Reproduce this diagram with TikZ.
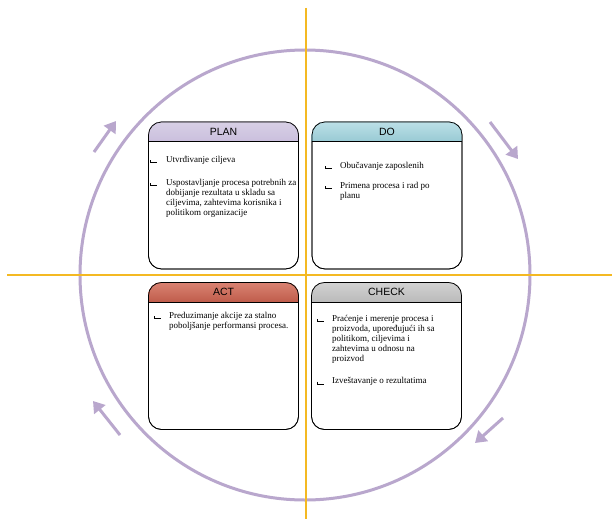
\documentclass[tikz,border=0pt]{standalone}
\usepackage{fontspec}
\setmainfont{Liberation Serif}
\newfontfamily\hdfont{Liberation Sans}
\usetikzlibrary{arrows.meta}
\definecolor{ringc}{HTML}{B9A7CD}
\definecolor{axisc}{HTML}{F4B923}
\definecolor{planA}{HTML}{D8D0E6}
\definecolor{planB}{HTML}{CABFDD}
\definecolor{doA}{HTML}{BCE0E7}
\definecolor{doB}{HTML}{98CAD4}
\definecolor{actA}{HTML}{DA8373}
\definecolor{actB}{HTML}{BF5C4B}
\definecolor{chkA}{HTML}{D2D2D2}
\definecolor{chkB}{HTML}{BABABA}
\tikzset{
  panel/.style={draw=black, line width=0.7pt, rounded corners=13pt, minimum width=150pt, minimum height=147pt, inner sep=0pt},
  ttl/.style={font=\hdfont\fontsize{10.5}{12}\selectfont, inner sep=0pt},
  body/.style={font=\fontsize{9}{9.9}\selectfont, anchor=north west, align=left, inner sep=0pt},
  ring/.style={draw=ringc, line width=3pt},
  axis/.style={draw=axisc, line width=2pt},
  cyc/.style={draw=ringc, fill=ringc, line width=3pt, -{Triangle[length=11pt,width=14pt]}},
}
\newcommand{\bulletmark}[1]{%
  \draw[line width=0.6pt] ([yshift=2.4pt]#1) -- ([yshift=-0.6pt]#1);
  \draw[line width=1.3pt] ([xshift=0pt,yshift=-0.3pt]#1) -- ([xshift=6.5pt,yshift=-0.3pt]#1);}
\newcommand{\hdfill}[3]{%
  \begin{scope}
    \clip[rounded corners=13pt] (#1.south west) rectangle (#1.north east);
    \shade[top color=#2, bottom color=#3] (#1.north west) rectangle ([yshift=-20pt]#1.north east);
  \end{scope}
  \draw[line width=0.6pt] ([yshift=-20pt]#1.north west) -- ([yshift=-20pt]#1.north east);
}
\begin{document}
\begin{tikzpicture}[x=1pt,y=-1pt]
\useasboundingbox (0,0) rectangle (612,519);
\fill[white] (0,0) rectangle (612,519);
% ring and axes
\draw[ring] (305,275) circle (225);
\coordinate (vt) at (306,8);
\coordinate (vb) at (306,519);
\coordinate (hl) at (7,275);
\coordinate (hr) at (612,275);
\draw[axis] (vt) -- (vb);
\draw[axis] (hl) -- (hr);
% cycle arrows
\coordinate (a1s) at (94,152); \coordinate (a1e) at (116,121);
\coordinate (a2s) at (490,122); \coordinate (a2e) at (518,159);
\coordinate (a3s) at (503,418); \coordinate (a3e) at (475,443);
\coordinate (a4s) at (120,435); \coordinate (a4e) at (93,401);
\draw[cyc] (a1s) -- (a1e);
\draw[cyc] (a2s) -- (a2e);
\draw[cyc] (a3s) -- (a3e);
\draw[cyc] (a4s) -- (a4e);
% panels
\node[panel, fill=white] (plan) at (223.5,195.5) {};
\node[panel, fill=white] (do) at (387,195.5) {};
\node[panel, fill=white] (act) at (223.5,356) {};
\node[panel, fill=white] (check) at (386.5,356) {};
\hdfill{plan}{planA}{planB}
\hdfill{do}{doA}{doB}
\hdfill{act}{actA}{actB}
\hdfill{check}{chkA}{chkB}
\node[panel] at (plan) {};
\node[panel] at (do) {};
\node[panel] at (act) {};
\node[panel] at (check) {};
\node[ttl] (tplan) at ([yshift=-10pt]plan.north) {PLAN};
\node[ttl] (tdo) at ([yshift=-10pt]do.north) {DO};
\node[ttl] (tact) at ([yshift=-10pt]act.north) {ACT};
\node[ttl] (tcheck) at ([yshift=-10pt]check.north) {CHECK};
% PLAN body
\coordinate (bp1) at (150,162.5); \bulletmark{bp1}
\node[body] (p1) at (166,156) {Utvrđivanje ciljeva};
\coordinate (bp2) at (150,185.5); \bulletmark{bp2}
\node[body] (p2) at (166,179) {Uspostavljanje procesa potrebnih za\\dobijanje rezultata u skladu sa\\ciljevima, zahtevima korisnika i\\politikom organizacije};
% DO body
\coordinate (bd1) at (325,168.5); \bulletmark{bd1}
\node[body] (d1) at (340,162) {Obučavanje zaposlenih};
\coordinate (bd2) at (325,188.5); \bulletmark{bd2}
\node[body] (d2) at (340,182) {Primena procesa i rad po\\planu};
% ACT body
\coordinate (ba1) at (154,318.5); \bulletmark{ba1}
\node[body] (c1) at (169,312) {Preduzimanje akcije za stalno\\poboljšanje performansi procesa.};
% CHECK body
\coordinate (bc1) at (317,321.5); \bulletmark{bc1}
\node[body] (k1) at (332,315) {Praćenje i merenje procesa i\\proizvoda, upoređujući ih sa\\politikom, ciljevima i\\zahtevima u odnosu na\\proizvod};
\coordinate (bc2) at (317,384); \bulletmark{bc2}
\node[body] (k2) at (332,377.5) {Izveštavanje o rezultatima};
\end{tikzpicture}
\end{document}
